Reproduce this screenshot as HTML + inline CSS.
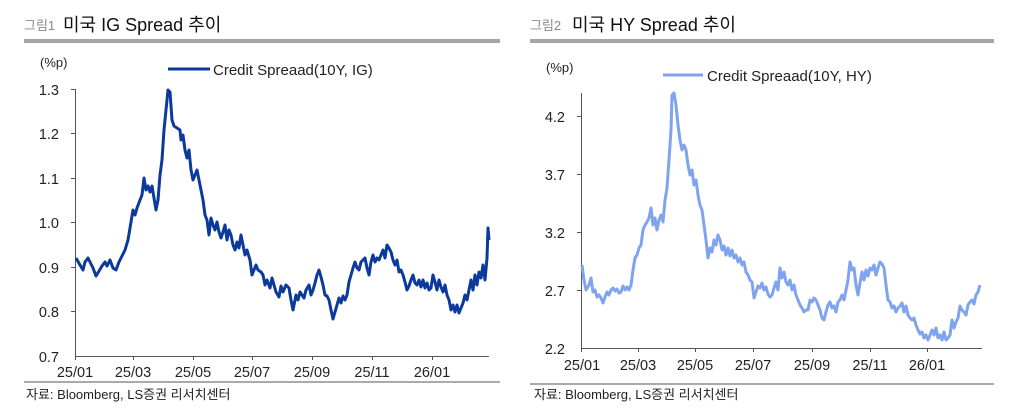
<!DOCTYPE html>
<html><head><meta charset="utf-8"><style>
html,body{margin:0;padding:0;background:#fff;width:1024px;height:418px;overflow:hidden}
text{font-family:"Liberation Sans","Noto Sans CJK KR",sans-serif}
</style></head><body>
<svg width="1024" height="418" xmlns="http://www.w3.org/2000/svg">
<!-- Left panel -->
<text x="24" y="30" font-size="13" fill="#888">그림1</text>
<text x="63" y="31" font-size="18" fill="#111">미국 IG Spread 추이</text>
<rect x="24" y="39" width="476" height="4" fill="#a6a6a6"/>
<text x="40" y="67" font-size="13" fill="#222">(%p)</text>
<line x1="168" y1="69" x2="210" y2="69" stroke="#0b3a9c" stroke-width="3"/>
<text x="213" y="75" font-size="15" fill="#222">Credit Spreaad(10Y, IG)</text>
<g stroke="#555" stroke-width="1" fill="none">
<line x1="75.5" y1="89" x2="75.5" y2="356"/><line x1="75" y1="356.5" x2="489" y2="356.5"/>
<line x1="71" y1="89.5" x2="75" y2="89.5"/><line x1="71" y1="133.5" x2="75" y2="133.5"/><line x1="71" y1="178.5" x2="75" y2="178.5"/><line x1="71" y1="222.5" x2="75" y2="222.5"/><line x1="71" y1="267.5" x2="75" y2="267.5"/><line x1="71" y1="311.5" x2="75" y2="311.5"/>
<line x1="75.5" y1="356" x2="75.5" y2="360"/><line x1="133.5" y1="356" x2="133.5" y2="360"/><line x1="193.5" y1="356" x2="193.5" y2="360"/><line x1="252.5" y1="356" x2="252.5" y2="360"/><line x1="312.5" y1="356" x2="312.5" y2="360"/><line x1="372.5" y1="356" x2="372.5" y2="360"/><line x1="432.5" y1="356" x2="432.5" y2="360"/>
</g>
<g font-size="14.5" fill="#222" text-anchor="end">
<text x="59" y="95">1.3</text><text x="59" y="139">1.2</text><text x="59" y="184">1.1</text><text x="59" y="228">1.0</text><text x="59" y="273">0.9</text><text x="59" y="317">0.8</text><text x="59" y="362">0.7</text></g>
<g font-size="14.5" fill="#222" text-anchor="middle">
<text x="75" y="377">25/01</text><text x="133" y="377">25/03</text><text x="193" y="377">25/05</text><text x="252" y="377">25/07</text><text x="312" y="377">25/09</text><text x="372" y="377">25/11</text><text x="432" y="377">26/01</text></g>
<line x1="24" y1="382" x2="500" y2="382" stroke="#555" stroke-width="1"/>
<text x="26" y="399" font-size="13" fill="#222">자료: Bloomberg, LS증권 리서치센터</text>
<polyline fill="none" stroke="#0b3a9c" stroke-width="3" stroke-linejoin="round" points="76,258 80,265 83,270 85,262 88,258 90,262 93,268 96,276 99,271 102,266 105,262 107,266 110,260 113,268 116,270 119,262 122,256 125,250 128,240 131,222 133,210 135,215 137,208 140,200 142,195 144,178 146,190 148,186 150,192 152,186 154,198 156,210 158,200 160,175 162,160 164,130 166,110 168,90 170,92 172,120 174,126 177,128 180,130 181,140 183,135 185,150 187,158 189,150 191,170 193,180 195,175 197,170 199,180 201,190 203,200 205,215 207,220 209,235 211,218 213,225 215,230 217,222 219,232 221,238 223,232 225,225 227,240 229,230 231,235 233,245 235,250 237,242 239,248 241,235 243,245 245,255 247,250 250,260 252,275 254,270 256,265 258,270 261,272 263,275 265,285 267,280 270,288 272,278 274,285 276,292 279,297 281,286 283,292 286,285 289,288 291,300 293,310 296,295 298,300 300,292 302,295 304,298 306,290 309,285 311,295 313,290 315,283 317,275 319,270 321,277 323,285 325,295 327,296 329,300 331,310 333,319 335,312 337,305 339,298 341,303 343,296 345,300 347,295 349,282 351,275 353,268 355,262 357,268 359,270 361,262 363,260 365,258 367,268 369,275 371,262 373,255 375,262 377,258 379,260 381,255 383,250 385,258 387,245 389,248 391,252 393,260 395,265 397,260 399,272 401,270 403,275 405,282 407,290 409,286 411,280 413,275 415,283 417,285 419,280 421,287 423,280 425,288 427,283 429,290 431,288 433,275 435,282 437,290 439,280 441,287 443,292 445,285 447,295 449,300 451,310 453,305 455,312 457,305 459,313 461,308 463,303 465,295 467,300 469,290 471,280 473,290 475,275 477,285 479,272 481,278 483,265 485,280 487,258 488,228 489,240"/>

<!-- Right panel -->
<text x="530" y="30" font-size="13" fill="#888">그림2</text>
<text x="572" y="31" font-size="18" fill="#111">미국 HY Spread 추이</text>
<rect x="530" y="39" width="464" height="4" fill="#a6a6a6"/>
<text x="546" y="72" font-size="13" fill="#222">(%p)</text>
<line x1="663" y1="75" x2="703" y2="75" stroke="#7fa3ef" stroke-width="3"/>
<text x="707" y="81" font-size="15" fill="#222">Credit Spreaad(10Y, HY)</text>
<g stroke="#555" stroke-width="1" fill="none">
<line x1="581.5" y1="93" x2="581.5" y2="348"/><line x1="581" y1="348.5" x2="982" y2="348.5"/>
<line x1="577" y1="116.5" x2="581" y2="116.5"/><line x1="577" y1="174.5" x2="581" y2="174.5"/><line x1="577" y1="232.5" x2="581" y2="232.5"/><line x1="577" y1="290.5" x2="581" y2="290.5"/>
<line x1="581.5" y1="348" x2="581.5" y2="352"/><line x1="638.5" y1="348" x2="638.5" y2="352"/><line x1="695.5" y1="348" x2="695.5" y2="352"/><line x1="753.5" y1="348" x2="753.5" y2="352"/><line x1="812.5" y1="348" x2="812.5" y2="352"/><line x1="870.5" y1="348" x2="870.5" y2="352"/><line x1="927.5" y1="348" x2="927.5" y2="352"/>
</g>
<g font-size="14.5" fill="#222" text-anchor="end">
<text x="565" y="122">4.2</text><text x="565" y="180">3.7</text><text x="565" y="238">3.2</text><text x="565" y="296">2.7</text><text x="565" y="354">2.2</text></g>
<g font-size="14.5" fill="#222" text-anchor="middle">
<text x="582" y="370">25/01</text><text x="638" y="370">25/03</text><text x="695" y="370">25/05</text><text x="753" y="370">25/07</text><text x="812" y="370">25/09</text><text x="870" y="370">25/11</text><text x="927" y="370">26/01</text></g>
<line x1="530" y1="384" x2="994" y2="384" stroke="#555" stroke-width="1"/>
<text x="534" y="399" font-size="13" fill="#222">자료: Bloomberg, LS증권 리서치센터</text>
<polyline fill="none" stroke="#7fa3ef" stroke-width="3" stroke-linejoin="round" points="582,265 584,280 586,290 589,285 591,278 593,292 595,290 597,297 599,295 601,298 603,303 605,297 607,292 609,295 611,290 613,288 615,291 617,289 619,293 621,292 623,286 625,290 627,287 629,290 631,285 633,270 635,258 637,255 639,248 641,245 643,230 645,225 647,222 649,218 651,208 653,225 655,218 657,230 659,220 661,215 663,222 665,200 667,188 669,160 671,130 672,95 674,93 676,105 678,125 680,140 682,150 684,145 686,150 688,165 690,175 692,170 694,185 696,180 698,195 700,205 702,210 704,225 706,240 708,258 710,248 712,252 714,240 716,245 718,235 720,240 722,250 724,246 726,255 728,248 730,256 732,250 734,258 736,255 738,262 740,258 742,265 744,262 746,272 748,275 750,280 752,282 754,298 756,292 758,286 760,288 762,283 764,290 766,287 768,294 770,297 772,295 774,288 776,282 778,290 780,268 782,278 784,272 786,282 788,285 790,280 792,290 794,285 796,295 798,300 800,305 802,308 804,312 806,310 808,310 810,300 812,302 814,298 816,300 818,305 820,310 822,318 824,320 826,312 828,305 830,302 832,308 834,306 836,312 838,302 840,300 842,295 844,300 846,290 848,280 850,262 852,270 854,268 856,285 858,295 860,283 862,272 864,280 866,270 868,276 870,268 872,270 874,265 876,275 878,268 880,262 882,264 884,268 886,285 888,300 890,302 892,308 894,306 896,312 898,308 900,306 902,303 904,312 906,306 908,315 910,318 912,320 914,318 916,325 918,330 920,334 922,332 924,338 926,335 928,340 930,335 932,330 934,335 936,328 938,338 940,335 942,340 944,332 946,340 948,338 950,335 952,320 954,328 956,322 958,318 960,306 962,310 964,312 966,315 968,305 970,302 972,300 974,304 976,295 978,292 980,285"/>
</svg>
</body></html>
